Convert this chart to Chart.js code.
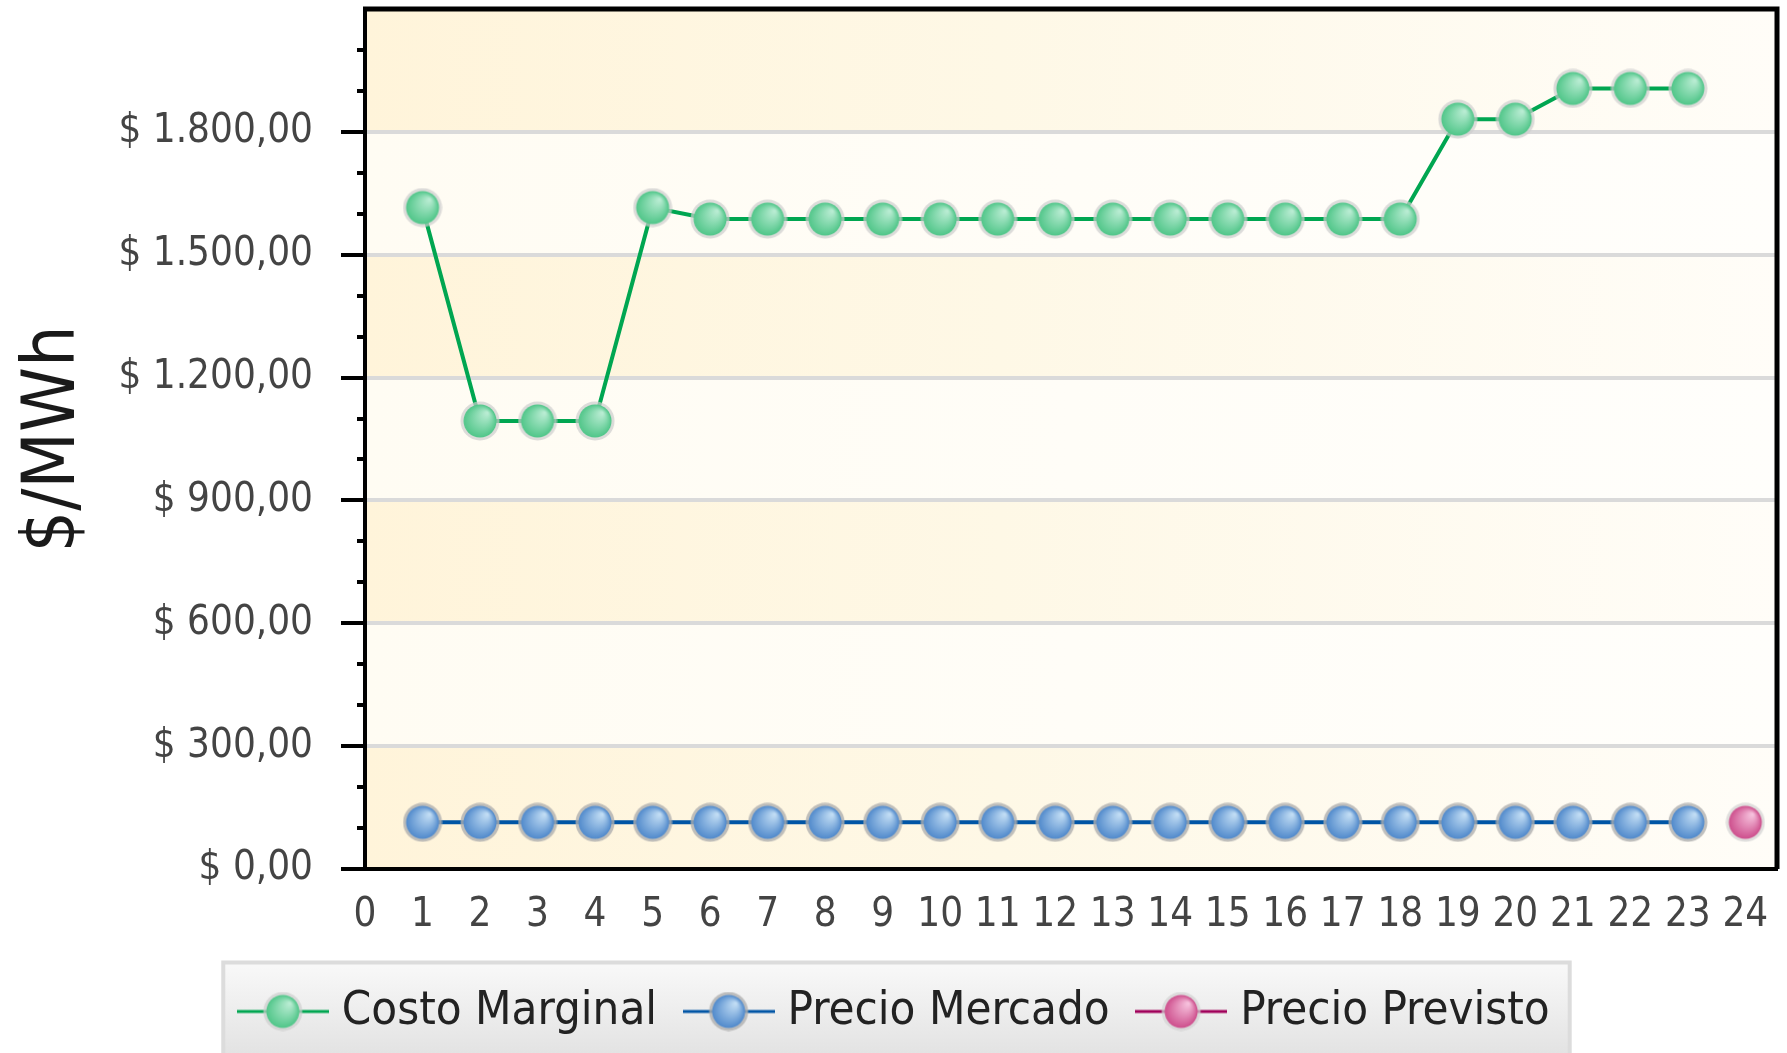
<!DOCTYPE html>
<html>
<head>
<meta charset="utf-8">
<title>Costo Marginal</title>
<script src="https://cdn.jsdelivr.net/npm/chart.js@4.4.1/dist/chart.umd.min.js"></script>
<style>
  html, body { margin: 0; padding: 0; background: #fff; }
  canvas { display: block; }
</style>
</head>
<body>
<canvas id="grafico" width="1787" height="1053"></canvas>
<script>
// Horas del día y precios en $/MWh
const horas = [1, 2, 3, 4, 5, 6, 7, 8, 9, 10, 11, 12, 13, 14, 15, 16, 17, 18, 19, 20, 21, 22, 23];
const costoMarginal = [1615, 1094, 1094, 1094, 1615, 1587, 1587, 1587, 1587, 1587, 1587, 1587,
                       1587, 1587, 1587, 1587, 1587, 1587, 1831, 1831, 1906, 1906, 1906];
const precioMercado = [114, 114, 114, 114, 114, 114, 114, 114, 114, 114, 114, 114,
                       114, 114, 114, 114, 114, 114, 114, 114, 114, 114, 114];
const horasPrevistas = [24];
const precioPrevisto = [114];
const marcasY = [0, 300, 600, 900, 1200, 1500, 1800];

const FUENTE = "'DejaVu Sans Condensed', 'DejaVu Sans', sans-serif";

function formatoPesos(v) {
  const [ent, dec] = v.toFixed(2).split('.');
  return '$ ' + ent.replace(/\B(?=(\d{3})+(?!\d))/g, '.') + ',' + dec;
}

// esfera con brillo arriba a la derecha
function esfera(oscuro, claro, halo) {
  const c = document.createElement('canvas');
  c.width = 40; c.height = 40;
  const g = c.getContext('2d');
  g.fillStyle = halo;
  g.beginPath(); g.arc(20, 20, 19.5, 0, Math.PI * 2); g.fill();
  const grad = g.createRadialGradient(27, 12, 1, 18, 22, 20);
  grad.addColorStop(0, claro);
  grad.addColorStop(1, oscuro);
  g.fillStyle = grad;
  g.beginPath(); g.arc(20, 20, 16.5, 0, Math.PI * 2); g.fill();
  return c;
}

// muestra de leyenda: trazo + esfera
function muestra(color, esf) {
  const c = document.createElement('canvas');
  c.width = 92; c.height = 40;
  const g = c.getContext('2d');
  g.fillStyle = color;
  g.fillRect(0, 18.5, 92, 3);
  g.drawImage(esf, 26, 0);
  return c;
}

const esfVerde = esfera('#38bd78', '#b8ecd2', 'rgba(205,205,205,0.7)');
const esfAzul = esfera('#3676c2', '#c0dcf4', 'rgba(175,175,175,0.8)');
const esfRosa = esfera('#c4347a', '#f6c0dc', 'rgba(210,210,210,0.7)');

const colores = ['#00a651', '#0055a5', '#a0005a'];
const muestras = [muestra(colores[0], esfVerde), muestra(colores[1], esfAzul), muestra(colores[2], esfRosa)];

// franjas alternas del área de trazado y caja de la leyenda
const fondo = {
  id: 'fondo',
  beforeDraw(chart) {
    const { ctx, chartArea: a, scales: { y } } = chart;
    ctx.save();
    for (let k = 0; k < 7; k++) {
      const y1 = y.getPixelForValue((k + 1) * 300);
      const y2 = y.getPixelForValue(k * 300);
      const grad = ctx.createLinearGradient(a.left, 0, a.right, 0);
      if (k % 2 === 0) {
        grad.addColorStop(0, '#fff4da');
        grad.addColorStop(0.45, '#fef8e6');
        grad.addColorStop(1, '#fffdf8');
      } else {
        grad.addColorStop(0, '#fffcf3');
        grad.addColorStop(1, '#fffefb');
      }
      ctx.fillStyle = grad;
      ctx.fillRect(a.left, y1, a.right - a.left, y2 - y1);
    }

    const cajas = chart.legend.legendHitBoxes;
    if (cajas && cajas.length) {
      const izq = cajas[0].left - 24;
      const der = cajas[cajas.length - 1].left + cajas[cajas.length - 1].width + 20;
      const centro = cajas[0].top + cajas[0].height / 2;
      const arriba = centro - 49;
      const g = ctx.createLinearGradient(0, arriba, 0, chart.height);
      g.addColorStop(0, '#f9f9f9');
      g.addColorStop(1, '#e3e3e3');
      ctx.fillStyle = g;
      ctx.fillRect(izq, arriba, der - izq, chart.height - arriba + 10);
      ctx.strokeStyle = '#dcdcdc';
      ctx.lineWidth = 4;
      ctx.strokeRect(izq, arriba, der - izq, chart.height - arriba + 10);
    }
    ctx.restore();
  }
};

// marco superior/derecho y marcas del eje Y
const marco = {
  id: 'marco',
  afterDraw(chart) {
    const { ctx, chartArea: a, scales: { y } } = chart;
    ctx.save();
    ctx.strokeStyle = '#000';
    ctx.lineWidth = 5;
    ctx.beginPath();
    ctx.moveTo(a.left - 2, a.top);
    ctx.lineTo(a.right, a.top);
    ctx.lineTo(a.right, a.bottom);
    ctx.stroke();

    ctx.lineWidth = 4;
    y.ticks.forEach(t => {
      if (t.value >= 2100) return;
      const py = Math.round(y.getPixelForValue(t.value));
      const largo = t.value % 300 === 0 ? 24 : 8;
      ctx.beginPath();
      ctx.moveTo(a.left - largo, py);
      ctx.lineTo(a.left, py);
      ctx.stroke();
    });
    ctx.restore();
  }
};

const puntos = (xs, ys) => xs.map((x, i) => ({ x, y: ys[i] }));

new Chart(document.getElementById('grafico'), {
  type: 'line',
  data: {
    datasets: [
      { label: 'Costo Marginal', data: puntos(horas, costoMarginal), borderColor: colores[0],
        borderWidth: 4, pointStyle: esfVerde, pointRadius: 18, tension: 0 },
      { label: 'Precio Mercado', data: puntos(horas, precioMercado), borderColor: colores[1],
        borderWidth: 4, pointStyle: esfAzul, pointRadius: 18, tension: 0 },
      { label: 'Precio Previsto', data: puntos(horasPrevistas, precioPrevisto), borderColor: colores[2],
        borderWidth: 4, pointStyle: esfRosa, pointRadius: 18, tension: 0 }
    ]
  },
  options: {
    responsive: false,
    animation: false,
    devicePixelRatio: 1,
    layout: { autoPadding: false, padding: { left: 20, right: 10, top: 9, bottom: 8 } },
    scales: {
      x: {
        type: 'linear',
        min: 0,
        max: 24.55,
        grid: { display: false, drawTicks: false },
        border: { display: true, color: '#000', width: 4 },
        ticks: {
          stepSize: 1,
          includeBounds: false,
          autoSkip: false,
          maxRotation: 0,
          padding: 23,
          color: '#444',
          font: { family: FUENTE, size: 40 },
          callback: v => (Number.isInteger(v) && v <= 24 ? String(v) : '')
        },
        afterFit(s) { s.height = 83; s.paddingLeft = 0; s.paddingRight = 0; }
      },
      y: {
        min: 0,
        max: 2100,
        grid: {
          drawTicks: false,
          lineWidth: 4,
          color: c => (c.tick && marcasY.includes(c.tick.value) ? '#dadada' : 'rgba(0,0,0,0)')
        },
        border: { color: '#000', width: 4 },
        ticks: {
          stepSize: 100,
          autoSkip: false,
          padding: 52,
          color: '#444',
          font: { family: FUENTE, size: 40 },
          callback: v => (marcasY.includes(v) ? formatoPesos(v) : '')
        },
        title: {
          display: true,
          text: '$/MWh',
          color: '#1a1a1a',
          font: { family: FUENTE, size: 73, lineHeight: 0.9 },
          padding: { top: 2, bottom: 0 }
        },
        afterFit(s) { s.width = 345; s.paddingTop = 0; s.paddingBottom = 0; }
      }
    },
    plugins: {
      tooltip: { enabled: false },
      legend: {
        position: 'bottom',
        labels: {
          usePointStyle: true,
          pointStyleWidth: 71,
          padding: 36,
          color: '#222',
          font: { family: FUENTE, size: 47 },
          generateLabels(chart) {
            const items = Chart.defaults.plugins.legend.labels.generateLabels(chart);
            items.forEach((it, i) => { it.pointStyle = muestras[i]; });
            return items;
          }
        }
      }
    }
  },
  plugins: [fondo, marco]
});
</script>
</body>
</html>
